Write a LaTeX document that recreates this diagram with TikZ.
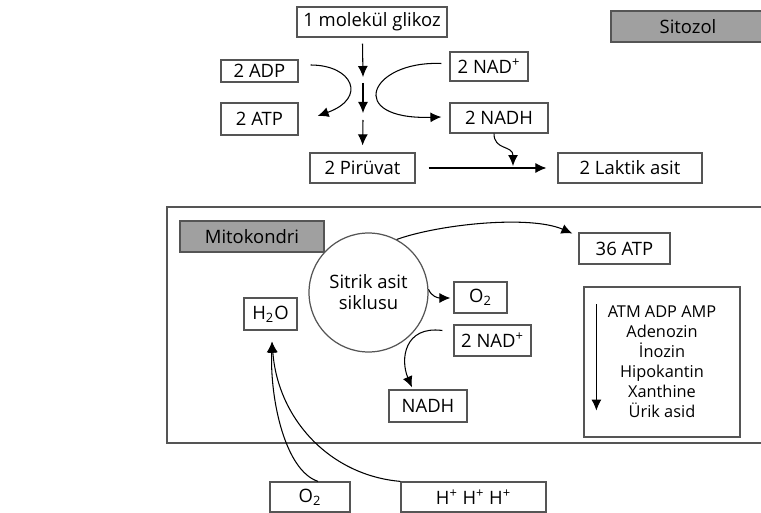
\documentclass[tikz,border=0pt]{standalone}
\usepackage{fontspec}
\setmainfont{Open Sans}
\usepackage{xcolor}
\usetikzlibrary{positioning,arrows.meta,calc}

\definecolor{tagfill}{RGB}{160,160,160}
\definecolor{edge}{RGB}{85,85,85}

\begin{document}
\begin{tikzpicture}[
  x=0.02cm, y=-0.02cm,
  font=\fontsize{10.5}{12}\selectfont,
  box/.style={draw=edge, line width=0.7pt, fill=white, inner sep=0pt, align=center, minimum height=0.6cm},
  tag/.style={box, fill=tagfill},
  cyc/.style={draw=edge, line width=0.7pt, circle, inner sep=0pt, minimum size=2.38cm, align=center, fill=white},
  arr/.style={-{Latex[length=2.2mm, width=2mm]}, line width=0.6pt},
  node distance=0.3cm and 0.3cm]

\useasboundingbox (0,0) rectangle (761,513);

% Cytosol: glycolysis
\node[box, minimum width=3cm] (glikoz) at (372,22) {1 molekül glikoz};
\node[tag, minimum width=3.08cm, minimum height=0.62cm] (sitozol) at (688,26.5) {Sitozol};
\node[box, minimum width=1.54cm, minimum height=0.44cm] (adp) at (259.5,71) {2 ADP};
\node[box, minimum width=1.54cm, minimum height=0.64cm] (atp) at (259.5,119) {2 ATP};
\node[box, minimum width=1.56cm, minimum height=0.58cm] (nad) at (489,66.5) {2 NAD\textsuperscript{+}};
\node[box, minimum width=1.96cm] (nadh) at (499,118) {2 NADH};
\node[box, minimum width=2.1cm] (piruvat) at (362.5,168) {2 Pirüvat};
\node[box, minimum width=2.88cm] (laktik) at (630,168) {2 Laktik asit};

\coordinate (g1) at (363,77);
\coordinate (g2) at (363,83);
\coordinate (g3) at (363,113);
\coordinate (g4) at (363,120);
\coordinate (lak) at (513,166);

% Mitochondrion
\draw[edge, line width=0.9pt] (775,207) -- (167,207) -- (167,443) -- (775,443);
\node[tag, minimum width=2.88cm, minimum height=0.62cm] (mito) at (252,236.5) {Mitokondri};
\node[cyc] (krebs) at (368.5,292.5) {Sitrik asit\\siklusu};
\node[box, minimum width=1.06cm, minimum height=0.64cm] (water) at (270.5,314) {H\textsubscript{2}O};
\node[box, minimum width=1.06cm, minimum height=0.62cm] (oxin) at (480.5,297.5) {O\textsubscript{2}};
\node[box, minimum width=1.54cm, minimum height=0.62cm] (nadm) at (492.5,340.5) {2 NAD\textsuperscript{+}};
\node[box, minimum width=1.56cm, minimum height=0.64cm] (nadhm) at (428,406) {NADH};
\node[box, minimum width=1.82cm, minimum height=0.62cm] (atpm) at (624.5,248.5) {36 ATP};
\node[box, minimum width=3.12cm, minimum height=3cm, font=\fontsize{9.3}{11.4}\selectfont] (kat) at (662,362)
  {ATM ADP AMP\\Adenozin\\İnozin\\Hipokantin\\Xanthine\\Ürik asid};
\coordinate (k0) at ($(kat.north west)+(13,18)$);
\coordinate (k1) at ($(kat.south west)+(13,-27)$);
\coordinate (wtip) at ($(water.south)+(1.5,11)$);

% Outside
\node[box, minimum width=1.6cm] (oxout) at (310,497) {O\textsubscript{2}};
\node[box, minimum width=2.9cm] (hplus) at (473.5,497) {H\textsuperscript{+} H\textsuperscript{+} H\textsuperscript{+}};

% Edges
\draw[arr] (glikoz.south -| piruvat.north) ++(0,6) -- (g1);
\draw[arr] (g2) -- (g3);
\draw[arr, shorten >=0.14cm] (g4) -- (piruvat.north);
\draw[arr] ($(adp.east)+(12,-6)$) .. controls +(42,0) and +(50,-18) .. ($(atp.east)+(19,-3)$);
\draw[arr] ($(nad.west)+(-8,-3)$) .. controls +(-72,-3) and +(-97,3) .. ($(nadh.west)+(-8,-1)$);
\draw[arr, shorten <=0.26cm, shorten >=0.22cm] (piruvat) -- (laktik);
\draw[arr] ($(nadh.south)+(-5,0)$) .. controls +(0,17) and +(0,-21) .. (lak);
\draw[arr] (krebs.62) .. controls (440,224) and (530,215) .. ($(atpm.west)+(-6,-15)$);
\draw[arr] (krebs.3) .. controls +(3,7) and +(-13,0) .. ($(oxin.west)+(-3,0.5)$);
\draw[arr] ($(nadm.west)+(-11,-10)$) .. controls +(-38,-5) and +(-12,-28) .. ($(nadhm.north)+(-16,-2)$);
\draw[arr] (k0) -- (k1);
\draw[arr] ($(oxout.north)+(8,0)$) .. controls +(-33,-11) and +(-2,58) .. (wtip);
\draw[arr] (hplus.north west) .. controls +(-70,-6) and +(6,78) .. (wtip);
\end{tikzpicture}
\end{document}
